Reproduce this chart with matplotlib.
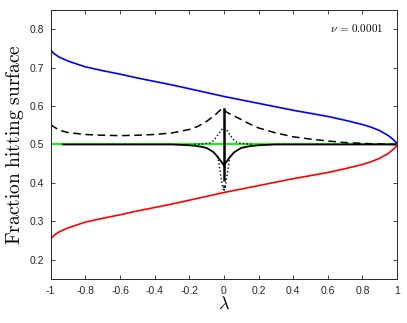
# Fraction hitting surface vs lambda, nu = 0.0001
import numpy as np
from matplotlib import pyplot as plt

plt.rcParams['mathtext.fontset'] = 'cm'
plt.rcParams['font.family'] = ['Liberation Sans', 'DejaVu Sans']

# upper / lower outer curves
lam_outer = [-1.0, -0.995, -0.98, -0.95, -0.9, -0.8, -0.7, -0.6, -0.5, -0.4, -0.3, -0.2, -0.1,
             0.0, 0.1, 0.2, 0.3, 0.4, 0.5, 0.6, 0.7, 0.8, 0.85, 0.9, 0.95, 0.98, 0.995, 1.0]
blue_vals = [0.750, 0.743, 0.736, 0.727, 0.717, 0.702, 0.692, 0.683, 0.673, 0.664, 0.655, 0.645, 0.635,
             0.625, 0.616, 0.607, 0.598, 0.589, 0.581, 0.573, 0.563, 0.552, 0.545, 0.536, 0.523, 0.512, 0.505, 0.500]
red_vals = [0.250, 0.257, 0.264, 0.273, 0.283, 0.298, 0.308, 0.317, 0.327, 0.336, 0.345, 0.355, 0.365,
            0.375, 0.384, 0.393, 0.402, 0.411, 0.419, 0.427, 0.437, 0.448, 0.455, 0.464, 0.477, 0.488, 0.495, 0.500]

# dashed curve
lam_dash = [-1.0, -0.95, -0.9, -0.8, -0.7, -0.6, -0.5, -0.4, -0.3, -0.2, -0.15, -0.1, -0.05, -0.02, -0.005,
            0.005, 0.02, 0.05, 0.1, 0.15, 0.2, 0.3, 0.4, 0.5, 0.6, 0.7, 0.8, 0.9, 1.0]
dash_vals = [0.551, 0.537, 0.531, 0.526, 0.524, 0.523, 0.524, 0.526, 0.530, 0.539, 0.547, 0.560, 0.577, 0.590, 0.594,
             0.588, 0.583, 0.576, 0.565, 0.553, 0.543, 0.530, 0.520, 0.514, 0.509, 0.505, 0.503, 0.501, 0.500]

# dotted bump above 0.5 and narrow dip below
lam_dot = [-0.17, -0.12, -0.08, -0.06, -0.04, -0.03, -0.02, -0.01, 0.0,
           0.01, 0.02, 0.03, 0.04, 0.06, 0.08, 0.12, 0.17]
dot_up_vals = [0.500, 0.502, 0.504, 0.510, 0.522, 0.528, 0.535, 0.540, 0.544,
               0.540, 0.535, 0.528, 0.522, 0.510, 0.504, 0.502, 0.500]
lam_dot_low = [-0.035, -0.025, -0.015, -0.008, 0.0, 0.008, 0.015, 0.025, 0.035]
dot_low_vals = [0.470, 0.440, 0.410, 0.390, 0.378, 0.390, 0.410, 0.440, 0.470]

# solid black dip and green flat line
lam_solid = [-0.93, -0.3, -0.2, -0.14, -0.1, -0.06, -0.04, -0.02, -0.01, 0.0,
             0.01, 0.02, 0.04, 0.06, 0.1, 0.14, 0.2, 0.3, 1.0]
solid_vals = [0.500, 0.500, 0.498, 0.495, 0.491, 0.480, 0.470, 0.458, 0.452, 0.446,
              0.452, 0.458, 0.470, 0.480, 0.491, 0.495, 0.498, 0.500, 0.500]
lam_green = [-1.0, 1.0]
green_vals = [0.500, 0.500]

# vertical spike at lambda = 0
lam_spike_top = [0.0, 0.0]
spike_top_vals = [0.592, 0.446]
lam_spike_low = [0.0, 0.0]
spike_low_vals = [0.446, 0.378]

fig = plt.figure(figsize=(4.07, 3.23), dpi=100)
ax = fig.add_axes([0.1246, 0.1362, 0.851, 0.833])

ax.plot(lam_green, green_vals, color='#00ff00', lw=1.4)
ax.plot(lam_solid, solid_vals, color='black', lw=1.3)
ax.plot(lam_dot, dot_up_vals, color='black', lw=1.0, ls=':')
ax.plot(lam_dot_low, dot_low_vals, color='black', lw=1.0, ls=':')
ax.plot(lam_spike_top, spike_top_vals, color='black', lw=1.8)
ax.plot(lam_spike_low, spike_low_vals, color='black', lw=1.8, ls='-.')
ax.plot(lam_dash, dash_vals, color='black', lw=1.1, ls=(0, (5, 3)))
ax.plot(lam_outer, blue_vals, color='blue', lw=1.2)
ax.plot(lam_outer, red_vals, color='red', lw=1.2)

ax.set_xlim(-1, 1)
ax.set_ylim(0.15, 0.85)
ax.set_xticks(np.arange(-1, 1.01, 0.2))
ax.set_xticklabels(['-1', '-0.8', '-0.6', '-0.4', '-0.2', '0', '0.2', '0.4', '0.6', '0.8', '1'])
ax.set_yticks([0.2, 0.3, 0.4, 0.5, 0.6, 0.7, 0.8])
ax.tick_params(direction='in', top=True, right=True, length=3, width=0.6,
               labelsize=7.5, colors='#262626', pad=5)
for s in ax.spines.values():
    s.set_linewidth(0.7)
    s.set_color('#262626')

ax.set_xlabel(r'$\lambda$', fontsize=13, labelpad=0)
ax.set_ylabel(r'$\mathrm{Fraction\ hitting\ surface}$', fontsize=14, labelpad=2)
ax.text(0.96, 0.955, r'$\nu\, =\, 0.0001$', transform=ax.transAxes, ha='right', va='top', fontsize=8)

plt.savefig('out.png', dpi=100)
